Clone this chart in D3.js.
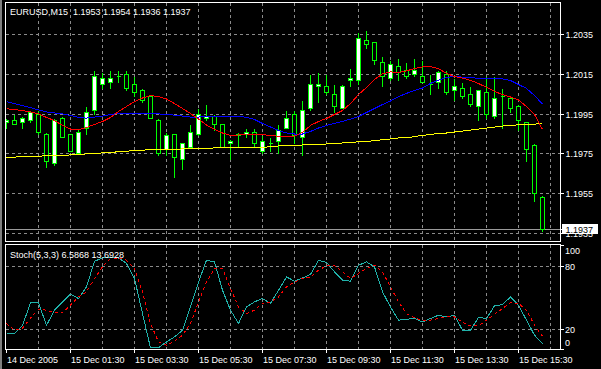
<!DOCTYPE html>
<html><head><meta charset="utf-8">
<script src="https://cdn.jsdelivr.net/npm/d3@7"></script>
<style>
html,body{margin:0;padding:0;background:#000;}
svg{display:block;}
text{font-family:"Liberation Sans",Arial,sans-serif;font-size:9px;fill:#fff;white-space:pre;}
</style></head><body>
<svg id="c" width="601" height="369"></svg>
<script>
// ---------- data ----------
const symbolLabel = "EURUSD,M15";
const lastQuote = [1.1953, 1.1954, 1.1936, 1.1937];
const stochLabel = "Stoch(5,3,3)";
const open  = [1.1991,1.1992,1.1991,1.1992,1.1995,1.1985,1.1970,1.1993,1.1985,1.1975,1.1988,1.1997,1.2010,1.2011,1.2014,1.2015,1.2010,1.2007,1.2004,1.1992,1.1977,1.1985,1.1972,1.1978,1.1985,1.1993,1.1994,1.1990,1.1980,1.1984,1.1985,1.1986,1.1976,1.1980,1.1981,1.1988,1.1995,1.1983,1.1998,1.2009,1.2009,1.2005,1.1998,1.2012,1.2012,1.2032,1.2031,1.2021,1.2013,1.2019,1.2017,1.2015,1.2014,1.2010,1.2011,1.2015,1.2007,1.2008,1.2005,1.1999,1.2006,1.1994,1.2004,1.2003,1.1999,1.1991,1.1979,1.1953];
const high  = [1.1993,1.1995,1.1994,1.1997,1.1997,1.1986,1.1993,1.1994,1.1985,1.1988,1.1999,1.2017,1.2016,1.2017,1.2017,1.2017,1.2014,1.2008,1.2005,1.1993,1.1986,1.1985,1.1980,1.1990,1.1998,1.2000,1.1995,1.1990,1.1982,1.1986,1.1988,1.1988,1.1984,1.1983,1.1990,1.1997,1.1997,1.2002,1.2015,1.2016,1.2015,1.2010,1.2010,1.2018,1.2036,1.2037,1.2031,1.2024,1.2022,1.2023,1.2021,1.2023,1.2022,1.2015,1.2017,1.2017,1.2013,1.2011,1.2009,1.2007,1.2014,1.2014,1.2008,1.2003,1.2000,1.1991,1.1980,1.1954];
const low   = [1.1988,1.1990,1.1988,1.1991,1.1985,1.1968,1.1969,1.1983,1.1976,1.1975,1.1985,1.1995,1.2008,1.2008,1.2011,1.2007,1.2004,1.2001,1.1993,1.1974,1.1974,1.1963,1.1967,1.1978,1.1984,1.1992,1.1987,1.1978,1.1972,1.1978,1.1983,1.1978,1.1975,1.1976,1.1975,1.1988,1.1980,1.1974,1.1997,1.2001,1.2005,1.1996,1.1998,1.2009,1.2010,1.2028,1.2020,1.2009,1.2012,1.2012,1.2013,1.2014,1.2011,1.2005,1.2008,1.2005,1.2002,1.2003,1.1999,1.1992,1.1993,1.1993,1.1988,1.1996,1.1987,1.1971,1.1951,1.1936];
const close = [1.1992,1.1990,1.1993,1.1996,1.1986,1.1971,1.1992,1.1983,1.1976,1.1986,1.1996,1.2014,1.2013,1.2013,1.2014,1.2008,1.2006,1.2002,1.1993,1.1975,1.1984,1.1973,1.1980,1.1986,1.1995,1.1994,1.1990,1.1978,1.1981,1.1985,1.1986,1.1980,1.1981,1.1980,1.1987,1.1993,1.1984,1.1997,1.2010,1.2010,1.2006,1.1999,1.2009,1.2013,1.2033,1.2030,1.2022,1.2014,1.2020,1.2016,1.2014,1.2017,1.2011,1.2010,1.2016,1.2006,1.2009,1.2004,1.2000,1.2007,1.1995,1.2003,1.2004,1.1998,1.1992,1.1977,1.1955,1.1937];
const maRed = [1.19977,1.19973,1.19968,1.19961,1.19951,1.19933,1.19918,1.19893,1.19875,1.19871,1.19883,1.19898,1.19913,1.19933,1.19963,1.19988,1.20013,1.20031,1.20043,1.20038,1.20026,1.20003,1.19978,1.19953,1.19925,1.19895,1.19873,1.19855,1.19842,1.19845,1.19850,1.19850,1.19847,1.19842,1.19839,1.19837,1.19840,1.19858,1.19893,1.19913,1.19928,1.19948,1.19968,1.20003,1.20048,1.20084,1.20124,1.20152,1.20162,1.20159,1.20167,1.20179,1.20187,1.20189,1.20179,1.20154,1.20139,1.20131,1.20119,1.20104,1.20084,1.20064,1.20048,1.20036,1.20021,1.19988,1.19948,1.19873];
const maBlue = [1.20013,1.20003,1.19993,1.19983,1.19971,1.19961,1.19956,1.19951,1.19943,1.19933,1.19930,1.19935,1.19940,1.19948,1.19953,1.19953,1.19953,1.19953,1.19953,1.19951,1.19948,1.19945,1.19940,1.19935,1.19935,1.19940,1.19940,1.19940,1.19940,1.19940,1.19933,1.19923,1.19903,1.19885,1.19868,1.19855,1.19850,1.19850,1.19863,1.19880,1.19893,1.19903,1.19913,1.19925,1.19938,1.19958,1.19978,1.19998,1.20016,1.20038,1.20054,1.20069,1.20081,1.20104,1.20121,1.20134,1.20139,1.20136,1.20132,1.20131,1.20130,1.20129,1.20127,1.20119,1.20099,1.20079,1.20043,1.20001];
const maYellow = [1.19730,1.19734,1.19737,1.19738,1.19739,1.19740,1.19742,1.19742,1.19745,1.19747,1.19750,1.19751,1.19755,1.19757,1.19761,1.19764,1.19766,1.19769,1.19771,1.19771,1.19771,1.19772,1.19775,1.19776,1.19776,1.19777,1.19780,1.19781,1.19781,1.19782,1.19782,1.19784,1.19784,1.19785,1.19790,1.19791,1.19792,1.19795,1.19796,1.19797,1.19800,1.19802,1.19805,1.19807,1.19811,1.19812,1.19817,1.19821,1.19825,1.19830,1.19831,1.19837,1.19843,1.19847,1.19853,1.19855,1.19860,1.19865,1.19870,1.19875,1.19880,1.19885,1.19890,1.19893,1.19896,1.19899,1.19900,1.19901];
const stochMain = [16.2,16.2,24,45.3,45.3,24,38.4,46.3,53.6,49.5,60.6,85,88.2,88.2,88.2,82.9,68.6,35.2,2.5,2.5,8.2,13,19.3,41.5,65,86,84.4,57.4,38.4,25.7,41.5,46.3,49.5,44.8,57.4,70.1,66,69.1,72.4,86,83.8,74.9,67,66,81.2,84.4,79.6,55.8,41.5,28.9,29.8,30.5,27.2,30.5,33.6,32,33.6,19.3,19.3,31.4,30.5,42.5,43.8,51,43.1,28.9,14.6,6.5868];
const stochSignal = [25.7,19.3,21.2,30.8,39.3,38.4,36.2,36.2,43.1,51,55.8,68.6,79.6,87.6,88.2,86,78.1,55.8,25.7,8.2,5,8.9,14.6,25.7,46,65.3,78.1,78.1,59,41.5,35.2,38.4,44.8,46.3,51,60.6,65.3,68.6,70.1,76.5,80.6,80.6,74.9,68.6,73.3,78.1,81.2,74.9,60.6,46.3,35.2,31,28.9,28.9,30.5,32,32,26.7,23.4,23.4,28.9,34.6,40,45.7,44.8,38.4,24.1,13.6928];
const priceTicks = [1.2035, 1.2015, 1.1995, 1.1975, 1.1955, 1.1935];
const stochTicks = [100, 80, 20, 0];
const stochGrid = [80, 20];
const timeLabels = ["14 Dec 2005","15 Dec 01:30","15 Dec 03:30","15 Dec 05:30","15 Dec 07:30","15 Dec 09:30","15 Dec 11:30","15 Dec 13:30","15 Dec 15:30"];
const timeLabelBars = [0, 8, 16, 24, 32, 40, 48, 56, 64];

// ---------- layout ----------
const svg = d3.select("#c");
const L = 5, R = 560, mTop = 2, mBot = 241, sTop = 244, sBot = 349;
const GRID = "#8a8a8a", GREEN = "#00ff00";
const n = close.length;
const x = d3.scaleLinear().domain([0, n - 1]).range([6.5, 6.5 + 8 * (n - 1)]);
const y = d3.scaleLinear().domain([1.1935, 1.2035]).range([233.5, 34.5]);
const ys = d3.scaleLinear().domain([0, 100]).range([350.5, 245.5]);
const snap = v => Math.floor(v) + 0.5;

svg.append("rect").attr("width", 601).attr("height", 369).attr("fill", "#000");
svg.append("rect").attr("x", 0).attr("y", 0).attr("width", 2).attr("height", 369).attr("fill", "#808080");

const defs = svg.append("defs");
defs.append("clipPath").attr("id", "mclip").append("rect")
  .attr("x", L + 1).attr("y", mTop + 1).attr("width", R - L - 1).attr("height", mBot - mTop - 1);
defs.append("clipPath").attr("id", "sclip").append("rect")
  .attr("x", L + 1).attr("y", sTop + 1).attr("width", R - L - 1).attr("height", sBot - sTop - 1);

const gm = svg.append("g").attr("clip-path", "url(#mclip)").attr("shape-rendering", "crispEdges");
const gs = svg.append("g").attr("clip-path", "url(#sclip)").attr("shape-rendering", "crispEdges");

// vertical grid
const vgrid = d3.range(4, n + 1, 4);
[[gm, mTop, mBot], [gs, sTop, sBot]].forEach(([g, t, b]) => {
  g.selectAll(null).data(vgrid).join("line")
    .attr("x1", d => x(d)).attr("x2", d => x(d)).attr("y1", t + 1).attr("y2", b)
    .attr("stroke", GRID).attr("stroke-dasharray", "3,3");
});
// horizontal grid main
gm.selectAll(null).data(priceTicks).join("line")
  .attr("x1", L + 1).attr("x2", R).attr("y1", d => snap(y(d))).attr("y2", d => snap(y(d)))
  .attr("stroke", GRID).attr("stroke-dasharray", "3,3");
// stoch grid
gs.selectAll(null).data(stochGrid).join("line")
  .attr("x1", L + 1).attr("x2", R).attr("y1", d => snap(ys(d))).attr("y2", d => snap(ys(d)))
  .attr("stroke", GRID).attr("stroke-dasharray", "3,3");

// current price line
const cur = lastQuote[3];
gm.append("line").attr("x1", L + 1).attr("x2", R).attr("y1", snap(y(cur))).attr("y2", snap(y(cur)))
  .attr("stroke", "#9a9a9a");

// candles
const idx = d3.range(n);
gm.selectAll(null).data(idx).join("line")
  .attr("x1", i => x(i)).attr("x2", i => x(i))
  .attr("y1", i => snap(y(high[i]))).attr("y2", i => snap(y(low[i])) + 0.5)
  .attr("stroke", GREEN);
gm.selectAll(null).data(idx.filter(i => open[i] !== close[i])).join("rect")
  .attr("x", i => x(i) - 2).attr("width", 4)
  .attr("y", i => snap(y(Math.max(open[i], close[i]))))
  .attr("height", i => snap(y(Math.min(open[i], close[i]))) - snap(y(Math.max(open[i], close[i]))))
  .attr("fill", i => close[i] > open[i] ? "#fff" : "#000")
  .attr("stroke", GREEN);
gm.selectAll(null).data(idx.filter(i => open[i] === close[i])).join("line")
  .attr("x1", i => x(i) - 2).attr("x2", i => x(i) + 2.5)
  .attr("y1", i => snap(y(close[i]))).attr("y2", i => snap(y(close[i])))
  .attr("stroke", GREEN);

// moving averages
const lineP = arr => d3.line().x((d, i) => x(i)).y(d => y(d))(arr);
gm.append("path").attr("d", lineP(maYellow)).attr("fill", "none").attr("stroke", "#ffff00");
gm.append("path").attr("d", lineP(maBlue)).attr("fill", "none").attr("stroke", "#0000ff");
gm.append("path").attr("d", lineP(maRed)).attr("fill", "none").attr("stroke", "#ff0000");

// stochastic
const lineS = arr => d3.line().x((d, i) => x(i)).y(d => ys(d))(arr);
gs.append("path").attr("d", lineS(stochMain)).attr("fill", "none").attr("stroke", "#20b2aa");
gs.append("path").attr("d", lineS(stochSignal)).attr("fill", "none").attr("stroke", "#ff0000").attr("stroke-dasharray", "3,3");

// borders
const gb = svg.append("g").attr("shape-rendering", "crispEdges");
gb.append("rect").attr("x", L + 0.5).attr("y", mTop + 0.5).attr("width", R - L).attr("height", mBot - mTop)
  .attr("fill", "none").attr("stroke", "#fff");
gb.append("rect").attr("x", L + 0.5).attr("y", sTop + 0.5).attr("width", R - L).attr("height", sBot - sTop)
  .attr("fill", "none").attr("stroke", "#fff");

// price axis
priceTicks.forEach(p => {
  const yy = snap(y(p));
  gb.append("line").attr("x1", R).attr("x2", R + 4).attr("y1", yy).attr("y2", yy).attr("stroke", "#fff");
  svg.append("text").attr("x", R + 5.5).attr("y", yy + 3).text(p.toFixed(4));
});
// current price box
const cy = snap(y(cur));
gb.append("line").attr("x1", R).attr("x2", R + 3).attr("y1", cy).attr("y2", cy).attr("stroke", "#fff");
svg.append("rect").attr("x", R + 2).attr("y", cy - 5.5).attr("width", 36).attr("height", 10).attr("fill", "#fff");
svg.append("text").attr("x", R + 5.5).attr("y", cy + 3).attr("fill", "#000").style("fill", "#000").text(cur.toFixed(4));

// stoch axis
stochTicks.forEach(v => {
  const yy = snap(ys(v));
  gb.append("line").attr("x1", R).attr("x2", R + 4).attr("y1", Math.min(Math.max(yy, sTop + 0.5), sBot + 0.5))
    .attr("y2", Math.min(Math.max(yy, sTop + 0.5), sBot + 0.5)).attr("stroke", "#fff");
  const cyy = Math.min(Math.max(yy, sTop + 6.5), sBot - 6);
  svg.append("text").attr("x", R + 5).attr("y", cyy + 3).text(String(v));
});

// time axis
timeLabelBars.forEach((b, i) => {
  const xx = x(b);
  gb.append("line").attr("x1", xx).attr("x2", xx).attr("y1", sBot).attr("y2", sBot + 4).attr("stroke", "#fff");
  svg.append("text").attr("x", xx + 0.5).attr("y", 363).text(timeLabels[i]);
});

// titles
svg.append("text").attr("x", 10).attr("y", 14.5)
  .text(symbolLabel + "  " + lastQuote.map(v => v.toFixed(4)).join(" "));
svg.append("text").attr("x", 10).attr("y", 258)
  .text(stochLabel + " " + stochMain[n - 1].toFixed(4) + " " + stochSignal[n - 1].toFixed(4));
</script>
</body></html>
